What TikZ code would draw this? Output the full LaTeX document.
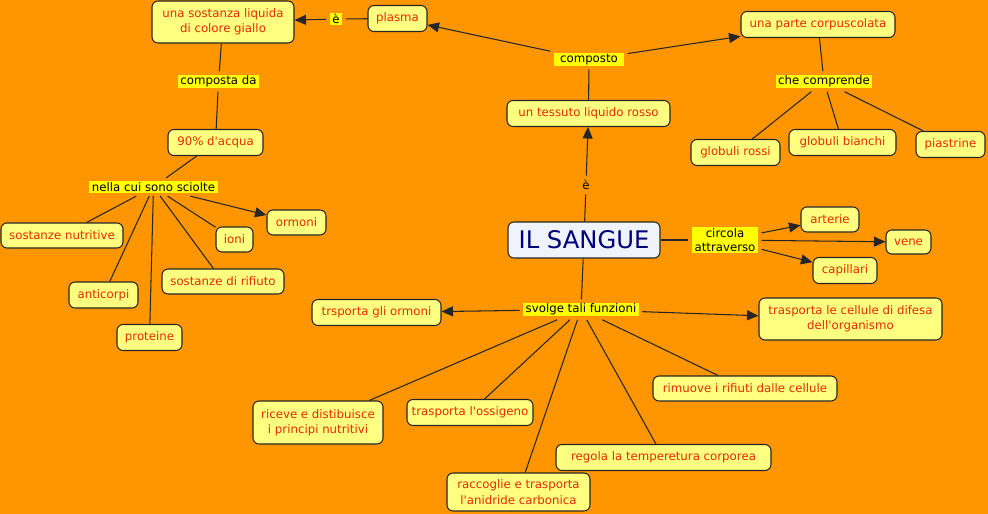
\documentclass[tikz,border=0pt]{standalone}
\usepackage{fontspec}
\setmainfont{DejaVu Sans}
\usepackage{xcolor}
\usetikzlibrary{arrows.meta}

\definecolor{mapbg}{RGB}{255,150,0}
\definecolor{conceptfill}{RGB}{255,255,128}
\definecolor{concepttext}{RGB}{228,42,0}
\definecolor{linkfill}{RGB}{255,255,0}
\definecolor{rootfill}{RGB}{238,244,250}
\definecolor{roottext}{RGB}{0,0,120}
\newcommand{\apos}{\textquotesingle}

\begin{document}
\begin{tikzpicture}[x=0.02cm, y=-0.02cm,
  concept/.style={draw=black!85, line width=0.6pt, rounded corners=0.12cm, fill=conceptfill, text=concepttext,
    font=\fontsize{6.7}{8.8}\selectfont, align=center, minimum height=0.52cm, inner xsep=2pt, inner ysep=1pt},
  rootconcept/.style={concept, fill=rootfill, text=roottext, font=\fontsize{13.8}{16}\selectfont},
  linkword/.style={fill=linkfill, text=black, font=\fontsize{6.7}{8.2}\selectfont, align=center,
    inner xsep=1.5pt, inner ysep=0.6pt, outer sep=2pt},
  plainword/.style={linkword, fill=none},
  link/.style={draw=black!85, line width=0.6pt},
  arrowlink/.style={link, -{Triangle[length=0.23cm, width=0.2cm]}}]

% background and margins
\fill[mapbg] (0,0) rectangle (988,514);

% Concepts on the left
\node[concept, minimum width=2.84cm, minimum height=0.84cm] (sostanza) at (223,22) {una sostanza liquida\\di colore giallo};
\node[concept, minimum width=1.18cm] (plasma) at (397.5,18.5) {plasma};
\node[concept, minimum width=1.9cm] (acqua) at (215.5,142.5) {90\% d\apos acqua};
\node[concept, minimum width=2.44cm, minimum height=0.5cm] (nutritive) at (62,235.5) {sostanze nutritive};
\node[concept, minimum width=1.38cm] (anticorpi) at (103.5,295) {anticorpi};
\node[concept, minimum width=1.3cm] (proteine) at (149.5,337.5) {proteine};
\node[concept, minimum width=0.74cm, minimum height=0.5cm] (ioni) at (234.5,239.5) {ioni};
\node[concept, minimum width=2.44cm, minimum height=0.5cm] (rifiuto) at (223,281.5) {sostanze di rifiuto};
\node[concept, minimum width=1.18cm, minimum height=0.5cm] (ormoni) at (296.5,222.5) {ormoni};

% Concepts on the top right
\node[concept, minimum width=3.08cm] (corpuscolata) at (818,24.5) {una parte corpuscolata};
\node[concept, minimum width=3.26cm] (tessuto) at (588.5,113.5) {un tessuto liquido rosso};
\node[concept, minimum width=1.78cm] (rossi) at (735.5,152.5) {globuli rossi};
\node[concept, minimum width=2.14cm] (bianchi) at (842.5,142.5) {globuli bianchi};
\node[concept, minimum width=1.38cm] (piastrine) at (950.5,144.5) {piastrine};

% Main concept
\node[rootconcept, minimum width=3.04cm, minimum height=0.72cm] (sangue) at (584,240) {IL SANGUE};

% Vessels
\node[concept, minimum width=1.16cm, minimum height=0.5cm] (arterie) at (830,219.5) {arterie};
\node[concept, minimum width=0.9cm, minimum height=0.48cm] (vene) at (908.5,242) {vene};
\node[concept, minimum width=1.28cm] (capillari) at (845,270.5) {capillari};

% Functions
\node[concept, minimum width=2.58cm] (trsporta) at (376.5,312.5) {trsporta gli ormoni};
\node[concept, minimum width=3.66cm, minimum height=0.84cm] (difesa) at (850.5,319) {trasporta le cellule di difesa\\dell\apos organismo};
\node[concept, minimum width=2.6cm, minimum height=0.86cm] (riceve) at (318,422.5) {riceve e distibuisce\\i principi nutritivi};
\node[concept, minimum width=2.52cm] (ossigeno) at (470,412.5) {trasporta l\apos ossigeno};
\node[concept, minimum width=2.86cm, minimum height=0.76cm] (raccoglie) at (518.5,492) {raccoglie e trasporta\\l\apos anidride carbonica};
\node[concept, minimum width=4.3cm] (regola) at (663.5,457.5) {regola la temperetura corporea};
\node[concept, minimum width=3.68cm, minimum height=0.5cm] (rimuove) at (745,388.5) {rimuove i rifiuti dalle cellule};

% Linking words
\node[linkword] (e1) at (336,19) {è};
\node[linkword] (composto) at (589,59.5) {\ composto\ };
\node[linkword] (comprende) at (824,81.5) {che comprende};
\node[linkword] (compostada) at (218.5,81.5) {composta da};
\node[linkword] (sciolte) at (153.5,187) {nella cui sono sciolte};
\node[plainword] (e2) at (586,185) {è};
\node[linkword] (circola) at (725,240) {circola\\attraverso};
\node[linkword] (funzioni) at (581,309.5) {svolge tali funzioni};

% Connections
\draw[link] (plasma) -- (e1);
\draw[arrowlink] (e1) -- (sostanza);
\draw[link] (tessuto) -- (composto);
\draw[arrowlink] (composto) -- (plasma);
\draw[arrowlink] (composto) -- (corpuscolata);

\draw[link] (corpuscolata) -- (comprende);
\draw[link] (comprende) -- (rossi);
\draw[link] (comprende) -- (bianchi);
\draw[link] (comprende) -- (piastrine);

\draw[link] (sostanza) -- (compostada);
\draw[link] (compostada) -- (acqua);
\draw[link] (acqua) -- (sciolte);
\draw[link] (sciolte) -- (nutritive);
\draw[link] (sciolte) -- (anticorpi);
\draw[link] (sciolte) -- (proteine);
\draw[link] (sciolte) -- (rifiuto);
\draw[link] (sciolte) -- (ioni);
\draw[arrowlink] (sciolte) -- (ormoni);

\draw[link] (sangue) -- (e2);
\draw[arrowlink] (e2) -- (tessuto);

\draw[link] (sangue) -- (circola);
\draw[arrowlink] (circola) -- (arterie);
\draw[arrowlink] (circola) -- (vene);
\draw[arrowlink] (circola) -- (capillari);

\draw[link] (sangue) -- (funzioni);
\draw[arrowlink] (funzioni) -- (trsporta);
\draw[arrowlink] (funzioni) -- (difesa);
\draw[link] (funzioni) -- (riceve);
\draw[link] (funzioni) -- (ossigeno);
\draw[link] (funzioni) -- (raccoglie);
\draw[link] (funzioni) -- (regola);
\draw[link] (funzioni) -- (rimuove);
\end{tikzpicture}
\end{document}
